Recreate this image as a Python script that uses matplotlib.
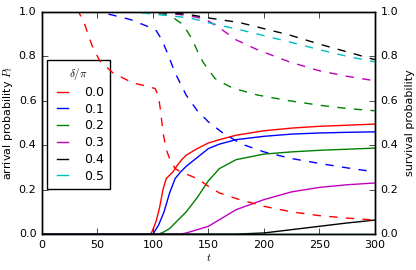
import matplotlib
matplotlib.use('Agg')
import matplotlib.pyplot as plt

plt.style.use('classic')

deltas = ['0.0', '0.1', '0.2', '0.3', '0.4', '0.5']
colors = ['r', 'b', 'g', 'm', 'k', 'c']

# arrival probability P_t (solid)
t_arr0 = [0, 98, 100, 103, 106, 109, 112, 115, 118, 122, 126, 130, 140, 150, 160, 175, 200, 225, 250, 275, 300]
arr0 = [0, 0, 0.02, 0.06, 0.12, 0.2, 0.25, 0.265, 0.28, 0.31, 0.335, 0.355, 0.385, 0.41, 0.425, 0.445, 0.465, 0.477, 0.485, 0.49, 0.495]
t_arr1 = [0, 100, 105, 110, 115, 120, 125, 130, 140, 150, 160, 175, 200, 225, 250, 275, 300]
arr1 = [0, 0, 0.04, 0.10, 0.185, 0.25, 0.28, 0.305, 0.345, 0.385, 0.405, 0.425, 0.44, 0.45, 0.455, 0.458, 0.46]
t_arr2 = [0, 105, 110, 115, 120, 125, 130, 140, 150, 160, 175, 200, 225, 250, 275, 300]
arr2 = [0, 0, 0.01, 0.025, 0.05, 0.075, 0.10, 0.165, 0.24, 0.295, 0.335, 0.36, 0.37, 0.377, 0.382, 0.387]
t_arr3 = [0, 125, 130, 140, 150, 160, 175, 200, 225, 250, 275, 300]
arr3 = [0, 0, 0.005, 0.02, 0.035, 0.065, 0.11, 0.155, 0.19, 0.21, 0.222, 0.23]
t_arr4 = [0, 175, 200, 225, 250, 275, 300]
arr4 = [0, 0, 0.005, 0.02, 0.035, 0.05, 0.063]
t_arr5 = [0, 300]
arr5 = [0, 0]

# survival probability (dashed)
t_sur0 = [0, 33, 38, 45, 52, 64, 82, 95, 102, 105, 107, 109, 112, 115, 120, 125, 130, 140, 150, 160, 175, 200, 225, 250, 275, 300]
sur0 = [1, 1, 0.95, 0.85, 0.78, 0.725, 0.68, 0.665, 0.655, 0.62, 0.55, 0.46, 0.38, 0.34, 0.295, 0.28, 0.27, 0.25, 0.215, 0.185, 0.16, 0.125, 0.1, 0.083, 0.072, 0.063]
t_sur1 = [0, 50, 60, 80, 95, 103, 108, 113, 120, 130, 140, 150, 163, 180, 200, 225, 250, 275, 300]
sur1 = [1, 1, 0.99, 0.965, 0.935, 0.915, 0.875, 0.815, 0.725, 0.625, 0.555, 0.505, 0.455, 0.405, 0.37, 0.34, 0.318, 0.298, 0.28]
t_sur2 = [0, 80, 100, 110, 118, 125, 130, 135, 140, 145, 150, 156, 163, 172, 194, 223, 250, 275, 300]
sur2 = [1, 1, 0.995, 0.99, 0.975, 0.95, 0.92, 0.88, 0.825, 0.775, 0.74, 0.70, 0.68, 0.657, 0.626, 0.60, 0.58, 0.565, 0.555]
t_sur3 = [0, 90, 110, 130, 140, 149, 160, 175, 194, 223, 250, 275, 300]
sur3 = [1, 1, 0.995, 0.985, 0.975, 0.962, 0.928, 0.874, 0.83, 0.775, 0.735, 0.71, 0.69]
t_sur4 = [0, 100, 130, 151, 178, 223, 250, 275, 300]
sur4 = [1, 1, 0.99, 0.972, 0.952, 0.896, 0.855, 0.82, 0.785]
t_sur5 = [0, 80, 100, 133, 151, 178, 223, 250, 275, 300]
sur5 = [1, 1, 0.99, 0.973, 0.95, 0.92, 0.865, 0.83, 0.80, 0.775]

t_arr = [t_arr0, t_arr1, t_arr2, t_arr3, t_arr4, t_arr5]
arr = [arr0, arr1, arr2, arr3, arr4, arr5]
t_sur = [t_sur0, t_sur1, t_sur2, t_sur3, t_sur4, t_sur5]
sur = [sur0, sur1, sur2, sur3, sur4, sur5]

fig = plt.figure(figsize=(4.16, 2.70), dpi=100, facecolor='white')
ax = fig.add_axes([0.101, 0.133, 0.8, 0.823])
ax2 = ax.twinx()

for i in range(6):
    ax.plot(t_arr[i], arr[i], color=colors[i], lw=1, label=deltas[i])
    ax2.plot(t_sur[i], sur[i], color=colors[i], lw=1, ls='--')

ax.set_xlim(0, 300)
ax.set_ylim(0, 1)
ax2.set_ylim(0, 1)
ax.set_xticks([0, 50, 100, 150, 200, 250, 300])
ax.set_yticks([0, 0.2, 0.4, 0.6, 0.8, 1.0])
ax2.set_yticks([0, 0.2, 0.4, 0.6, 0.8, 1.0])
ax.tick_params(labelsize=8)
ax2.tick_params(labelsize=8)
ax.set_xlabel('$t$', fontsize=8, labelpad=2)
ax.set_ylabel('arrival probability $P_t$', fontsize=8, labelpad=3)
ax2.set_ylabel('survival probability', fontsize=8)

leg = ax.legend(loc='upper left', bbox_to_anchor=(0.015, 0.784), borderaxespad=0,
                fontsize=9, title=r'$\delta/\pi$', handlelength=1.45,
                handletextpad=1.0, borderpad=0.5, labelspacing=0.3)
leg.get_title().set_fontsize(8)

fig.savefig('out.png', dpi=100, facecolor='white')
